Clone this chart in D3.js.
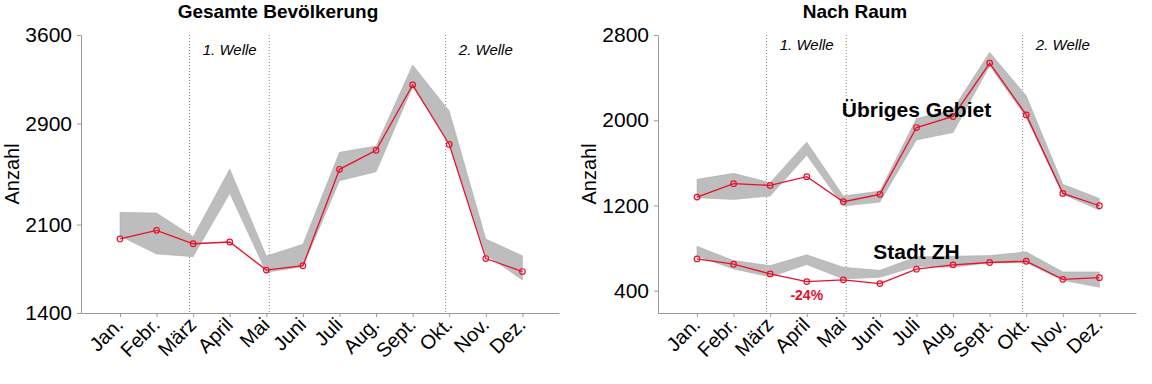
<!DOCTYPE html>
<html>
<head>
<meta charset="utf-8">
<script src="https://cdn.jsdelivr.net/npm/d3@7"></script>
<style>
  body { margin: 0; background: #fff; }
  text { font-family: Arial, "Liberation Sans", sans-serif; }
</style>
</head>
<body>
<script>
// months on the x axis
var months = ["Jan.", "Febr.", "März", "April", "Mai", "Juni", "Juli", "Aug.", "Sept.", "Okt.", "Nov.", "Dez."];

// Gesamte Bevölkerung: observed + expected band
var totalObs  = [1986, 2054, 1948, 1962, 1740, 1774, 2537, 2687, 3205, 2734, 1831, 1728];
var totalLow  = [2009, 1867, 1846, 2347, 1722, 1767, 2447, 2517, 3192, 2748, 1861, 1662];
var totalHigh = [2197, 2191, 2004, 2540, 1851, 1944, 2672, 2721, 3362, 2999, 1985, 1853];

// Nach Raum: Übriges Gebiet
var restObs  = [1278, 1404, 1388, 1470, 1235, 1304, 1931, 2035, 2536, 2050, 1313, 1197];
var restLow  = [1272, 1256, 1288, 1671, 1194, 1231, 1815, 1884, 2511, 2025, 1304, 1156];
var restHigh = [1445, 1501, 1414, 1796, 1288, 1335, 2016, 2104, 2637, 2229, 1398, 1266];

// Nach Raum: Stadt ZH
var cityObs  = [698, 648, 557, 485, 501, 466, 601, 642, 664, 676, 506, 522];
var cityLow  = [723, 604, 529, 645, 510, 525, 629, 619, 661, 661, 497, 431];
var cityHigh = [817, 682, 635, 736, 619, 591, 717, 723, 729, 764, 576, 576];

var leftTicks = [1400, 2100, 2900, 3600];
var rightTicks = [400, 1200, 2000, 2800];

// pandemic waves (month index positions)
var waveLines = [1.9, 4.08, 8.9];
var waveNames = ["1. Welle", "2. Welle"];
var waveNamePos = [3, 10];

var red = "#e8102c";

var svg = d3.select("body")
    .append("svg")
    .attr("width", 1152)
    .attr("height", 384);

var margin = {left: 81, top: 35},
    plotW = 478,
    plotH = 278;

function drawPanel(offsetX, title, yDomain, yTicks, series, labels, waveY) {
    var g = svg.append("g").attr("transform", "translate(" + offsetX + ",0)");

    var x = d3.scaleLinear().domain([-1.066, 12]).range([margin.left, margin.left + plotW]);
    var y = d3.scaleLinear().domain(yDomain).range([margin.top + plotH, margin.top]);

    // wave markers
    g.selectAll(".wave")
        .data(waveLines)
        .enter()
        .append("line")
        .attr("x1", function(d) { return x(d); })
        .attr("x2", function(d) { return x(d); })
        .attr("y1", margin.top)
        .attr("y2", margin.top + plotH)
        .attr("stroke", "#8a8a8a")
        .attr("stroke-width", 1)
        .attr("stroke-dasharray", "1,2");

    g.selectAll(".wavelabel")
        .data(waveNames)
        .enter()
        .append("text")
        .attr("x", function(d, i) { return x(waveNamePos[i]); })
        .attr("y", waveY)
        .attr("text-anchor", "middle")
        .attr("font-size", "15px")
        .attr("font-style", "italic")
        .text(function(d) { return d; });

    var area = d3.area()
        .x(function(d, i) { return x(i); })
        .y0(function(d) { return y(d[0]); })
        .y1(function(d) { return y(d[1]); });

    var line = d3.line()
        .x(function(d, i) { return x(i); })
        .y(function(d) { return y(d); });

    series.forEach(function(s) {
        var band = s.low.map(function(v, i) { return [v, s.high[i]]; });
        g.append("path")
            .datum(band)
            .attr("d", area)
            .attr("fill", "#bdbdbd")
            .attr("stroke", "#a8a8a8")
            .attr("stroke-width", 0.5);
    });

    series.forEach(function(s) {
        g.append("path")
            .datum(s.obs)
            .attr("d", line)
            .attr("fill", "none")
            .attr("stroke", red)
            .attr("stroke-width", 1.3);

        g.selectAll(null)
            .data(s.obs)
            .enter()
            .append("circle")
            .attr("cx", function(d, i) { return x(i); })
            .attr("cy", function(d) { return y(d); })
            .attr("r", 2.8)
            .attr("fill", "none")
            .attr("stroke", red)
            .attr("stroke-width", 1.2);
    });

    // axes
    var yAxis = d3.axisLeft(y).tickValues(yTicks).tickFormat(d3.format("d"))
        .tickSize(4).tickPadding(5).tickSizeOuter(0);
    var gy = g.append("g")
        .attr("transform", "translate(" + margin.left + ",0)")
        .call(yAxis);
    gy.select(".domain").attr("stroke", "#999");
    gy.selectAll(".tick line").attr("stroke", "#999");
    gy.selectAll(".tick text")
        .attr("font-size", "21px")
        .attr("font-family", "Arial, 'Liberation Sans', sans-serif")
        .attr("fill", "#000");

    var xAxis = d3.axisBottom(x).tickValues(d3.range(months.length))
        .tickFormat(function(i) { return months[i]; })
        .tickSize(4).tickSizeOuter(0);
    var gx = g.append("g")
        .attr("transform", "translate(0," + (margin.top + plotH) + ")")
        .call(xAxis);
    gx.select(".domain").attr("stroke", "#999");
    gx.selectAll(".tick line").attr("stroke", "#999");
    gx.selectAll(".tick text")
        .attr("font-size", "20px")
        .attr("font-family", "Arial, 'Liberation Sans', sans-serif")
        .attr("fill", "#000")
        .attr("text-anchor", "end")
        .attr("x", 0)
        .attr("y", 0)
        .attr("dy", 0)
        .attr("transform", "translate(4,13) rotate(-45)");

    // axis title
    g.append("text")
        .attr("transform", "translate(19," + (margin.top + plotH / 2) + ") rotate(-90)")
        .attr("text-anchor", "middle")
        .attr("font-size", "20px")
        .text("Anzahl");

    // panel title
    g.append("text")
        .attr("x", 278)
        .attr("y", 18)
        .attr("text-anchor", "middle")
        .attr("font-size", "19px")
        .attr("font-weight", "700")
        .text(title);

    // annotations
    labels.forEach(function(l) {
        g.append("text")
            .attr("x", x(l.at))
            .attr("y", y(l.value))
            .attr("text-anchor", "middle")
            .attr("font-size", l.size)
            .attr("font-weight", "700")
            .attr("fill", l.color)
            .text(l.text);
    });
}

drawPanel(0, "Gesamte Bevölkerung", [1400, 3600], leftTicks,
    [{obs: totalObs, low: totalLow, high: totalHigh}], [], 55);

drawPanel(577, "Nach Raum", [190, 2800], rightTicks,
    [{obs: restObs, low: restLow, high: restHigh},
     {obs: cityObs, low: cityLow, high: cityHigh}],
    [{text: "Übriges Gebiet", at: 6, value: 2030, size: "21px", color: "#000"},
     {text: "Stadt ZH", at: 6, value: 694, size: "21px", color: "#000"},
     {text: "-24%", at: 3, value: 312, size: "14px", color: red}], 50);
</script>
</body>
</html>
